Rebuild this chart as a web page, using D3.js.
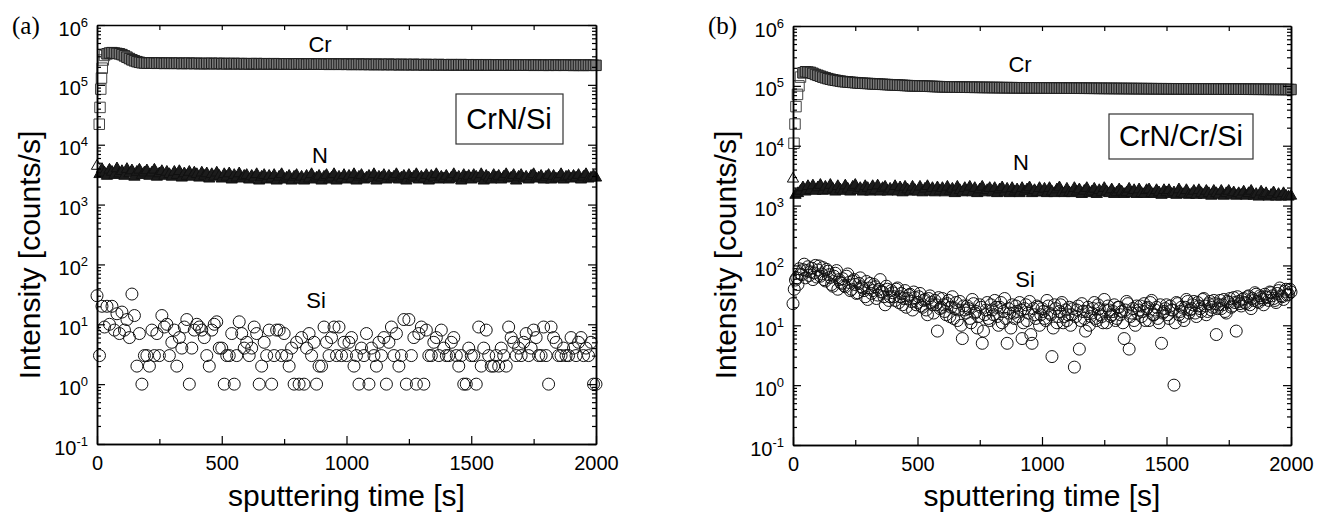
<!DOCTYPE html>
<html>
<head>
<meta charset="utf-8">
<script src="https://cdn.jsdelivr.net/npm/d3@7"></script>
<style>
  body { margin: 0; background: #fff; }
  svg text { font-family: "Liberation Sans", Arial, sans-serif; fill: #000; }
</style>
</head>
<body>
<svg id="chart" width="1318" height="516"></svg>
<script>
// sampling times of the depth profiles [s]
const timeGrid = [
  0, 10, 20, 30, 40, 50, 60, 70, 80, 90, 100, 110, 120, 130, 140, 150, 160, 170, 180, 190,
  200, 210, 220, 230, 240, 250, 260, 270, 280, 290, 300, 310, 320, 330, 340, 350, 360, 370, 380, 390,
  400, 410, 420, 430, 440, 450, 460, 470, 480, 490, 500, 510, 520, 530, 540, 550, 560, 570, 580, 590,
  600, 610, 620, 630, 640, 650, 660, 670, 680, 690, 700, 710, 720, 730, 740, 750, 760, 770, 780, 790,
  800, 810, 820, 830, 840, 850, 860, 870, 880, 890, 900, 910, 920, 930, 940, 950, 960, 970, 980, 990,
  1000, 1010, 1020, 1030, 1040, 1050, 1060, 1070, 1080, 1090, 1100, 1110, 1120, 1130, 1140, 1150, 1160, 1170, 1180, 1190,
  1200, 1210, 1220, 1230, 1240, 1250, 1260, 1270, 1280, 1290, 1300, 1310, 1320, 1330, 1340, 1350, 1360, 1370, 1380, 1390,
  1400, 1410, 1420, 1430, 1440, 1450, 1460, 1470, 1480, 1490, 1500, 1510, 1520, 1530, 1540, 1550, 1560, 1570, 1580, 1590,
  1600, 1610, 1620, 1630, 1640, 1650, 1660, 1670, 1680, 1690, 1700, 1710, 1720, 1730, 1740, 1750, 1760, 1770, 1780, 1790,
  1800, 1810, 1820, 1830, 1840, 1850, 1860, 1870, 1880, 1890, 1900, 1910, 1920, 1930, 1940, 1950, 1960, 1970, 1980, 1990,
  2000
];
// in-between sampling times (second Si set of panel b)
const timeGridHalf = [
  5, 15, 25, 35, 45, 55, 65, 75, 85, 95, 105, 115, 125, 135, 145, 155, 165, 175, 185, 195,
  205, 215, 225, 235, 245, 255, 265, 275, 285, 295, 305, 315, 325, 335, 345, 355, 365, 375, 385, 395,
  405, 415, 425, 435, 445, 455, 465, 475, 485, 495, 505, 515, 525, 535, 545, 555, 565, 575, 585, 595,
  605, 615, 625, 635, 645, 655, 665, 675, 685, 695, 705, 715, 725, 735, 745, 755, 765, 775, 785, 795,
  805, 815, 825, 835, 845, 855, 865, 875, 885, 895, 905, 915, 925, 935, 945, 955, 965, 975, 985, 995,
  1005, 1015, 1025, 1035, 1045, 1055, 1065, 1075, 1085, 1095, 1105, 1115, 1125, 1135, 1145, 1155, 1165, 1175, 1185, 1195,
  1205, 1215, 1225, 1235, 1245, 1255, 1265, 1275, 1285, 1295, 1305, 1315, 1325, 1335, 1345, 1355, 1365, 1375, 1385, 1395,
  1405, 1415, 1425, 1435, 1445, 1455, 1465, 1475, 1485, 1495, 1505, 1515, 1525, 1535, 1545, 1555, 1565, 1575, 1585, 1595,
  1605, 1615, 1625, 1635, 1645, 1655, 1665, 1675, 1685, 1695, 1705, 1715, 1725, 1735, 1745, 1755, 1765, 1775, 1785, 1795,
  1805, 1815, 1825, 1835, 1845, 1855, 1865, 1875, 1885, 1895, 1905, 1915, 1925, 1935, 1945, 1955, 1965, 1975, 1985, 1995
];

const KILO = 1000;

// ---- (a) CrN/Si ----
// Cr onset, kcounts/s
const crRiseTimeA = [9, 12, 15, 18, 21, 25, 30];
const crRiseA = [22, 42, 85, 130, 190, 260, 310];
// Cr on timeGrid, kcounts/s
const crA = [
  null, null, null, null, 330, 340, 345, 340, 335, 330,
  320, 305, 290, 275, 262, 252, 244, 238, 234, 232,
  231, 230, 232, 230, 229, 231, 230, 228, 230, 229,
  230, 228, 229, 230, 227, 229, 228, 230, 228, 227,
  229, 227, 228, 226, 228, 227, 229, 226, 227, 228,
  226, 228, 225, 227, 226, 228, 225, 226, 227, 225,
  226, 224, 226, 225, 227, 224, 225, 226, 224, 225,
  224, 226, 223, 225, 224, 222, 225, 223, 224, 222,
  223, 225, 222, 224, 221, 223, 222, 224, 221, 222,
  223, 221, 222, 220, 223, 221, 222, 220, 221, 222,
  220, 222, 219, 221, 220, 222, 219, 220, 221, 219,
  220, 218, 221, 219, 220, 218, 219, 221, 218, 219,
  219, 217, 220, 218, 219, 217, 218, 220, 217, 218,
  218, 216, 219, 217, 218, 216, 217, 219, 216, 217,
  217, 216, 218, 215, 217, 216, 218, 215, 216, 217,
  216, 215, 217, 214, 216, 215, 217, 214, 215, 216,
  215, 214, 216, 214, 215, 213, 216, 214, 215, 213,
  214, 215, 213, 215, 214, 212, 215, 213, 214, 212,
  214, 212, 213, 215, 212, 214, 213, 212, 214, 213,
  213, 211, 214, 212, 213, 211, 214, 212, 213, 212,
  212
];
// N on timeGrid, kcounts/s
const nA = [
  4.4, 3.2, 3.9, 3.4, 3.0, 3.8, 3.5, 3.1, 4.0, 3.3,
  3.6, 3.0, 3.9, 3.3, 3.7, 2.9, 3.5, 3.8, 3.1, 3.4,
  3.7, 3.0, 3.4, 3.8, 2.9, 3.3, 3.6, 3.0, 3.5, 3.2,
  2.9, 3.5, 3.1, 3.6, 2.8, 3.3, 3.0, 3.5, 2.9, 3.4,
  3.2, 2.8, 3.4, 3.0, 3.3, 2.7, 3.2, 2.9, 3.4, 3.0,
  2.7, 3.2, 2.9, 3.3, 2.6, 3.1, 2.8, 3.3, 2.7, 3.0,
  3.1, 2.6, 3.0, 2.8, 3.2, 2.5, 2.9, 3.1, 2.6, 3.0,
  2.7, 3.1, 2.5, 2.9, 3.2, 2.6, 2.8, 3.0, 2.5, 2.9,
  3.1, 2.6, 2.9, 2.5, 3.0, 2.7, 3.2, 2.6, 2.8, 3.0,
  2.5, 2.9, 3.1, 2.6, 2.8, 3.2, 2.5, 2.9, 2.7, 3.1,
  2.6, 3.0, 2.7, 3.2, 2.5, 2.9, 3.1, 2.6, 2.8, 3.0,
  2.7, 3.2, 2.5, 2.9, 2.8, 3.1, 2.6, 3.0, 2.7, 2.9,
  3.2, 2.6, 2.8, 3.0, 2.5, 3.1, 2.7, 2.9, 3.2, 2.6,
  2.9, 2.7, 3.1, 2.5, 3.0, 2.8, 3.2, 2.6, 2.9, 2.7,
  3.0, 2.6, 2.8, 3.2, 2.7, 2.9, 2.5, 3.1, 2.8, 3.0,
  2.6, 3.1, 2.9, 2.7, 3.2, 2.5, 3.0, 2.8, 2.6, 3.1,
  2.8, 3.0, 2.6, 2.9, 3.2, 2.7, 2.8, 3.1, 2.5, 2.9,
  3.1, 2.7, 2.9, 2.6, 3.0, 3.2, 2.7, 2.8, 3.0, 2.6,
  2.9, 3.1, 2.6, 3.0, 2.7, 2.8, 3.2, 2.6, 2.9, 3.0,
  2.7, 3.0, 2.8, 3.1, 2.6, 2.9, 3.2, 2.7, 2.8, 3.0,
  2.8
];
// Si on timeGrid, counts/s
const siA = [
  30, 3, 20, 9, 20, 10, 20, 8, 15, 7,
  16, 8, 12, 6, 32, 14, 2, 7, 1, 3,
  3, 2, 8, 3, 7, 3, 14, 9, 10, 3,
  5, 8, 2, 6, 4, 9, 12, 1, 4, 8,
  10, 9, 8, 6, 3, 2, 8, 10, 11, 4,
  4, 1, 3, 3, 7, 1, 3, 11, 7, 4,
  5, 3, 4, 9, 7, 1, 2, 5, 3, 8,
  1, 3, 8, 8, 3, 7, 3, 2, 4, 1,
  5, 1, 6, 1, 4, 7, 3, 5, 1, 2,
  2, 9, 5, 3, 6, 9, 3, 9, 3, 5,
  3, 5, 6, 2, 3, 1, 4, 3, 7, 1,
  4, 3, 2, 5, 3, 6, 1, 5, 9, 3,
  7, 2, 3, 12, 1, 12, 3, 6, 1, 7,
  9, 1, 8, 3, 3, 5, 6, 3, 8, 4,
  3, 3, 5, 6, 3, 2, 3, 1, 1, 4,
  3, 3, 1, 9, 2, 4, 8, 3, 2, 2,
  3, 2, 4, 3, 2, 9, 6, 5, 3, 4,
  3, 5, 7, 3, 4, 8, 6, 3, 3, 9,
  3, 1, 9, 6, 5, 3, 3, 4, 3, 3,
  6, 4, 3, 5, 6, 3, 4, 3, 5, 1,
  1
];

// ---- (b) CrN/Cr/Si ----
const crRiseTimeB = [4, 8, 12, 18, 24, 30];
const crRiseB = [11, 23, 45, 72, 100, 140];
const crB = [
  null, null, null, null, 165, 172, 170, 168, 162, 155,
  150, 145, 140, 136, 132, 129, 126, 124, 122, 120,
  118, 117, 116, 115, 114, 113, 112, 111, 110.5, 110,
  109.5, 109, 108, 107.5, 107, 106.5, 106, 105.5, 105, 104.5,
  104, 103.5, 103, 102.5, 102, 101.5, 101, 100.5, 100.2, 100.1,
  100, 99.6, 99.2, 98.8, 98.5, 98.2, 97.8, 97.5, 97.2, 96.9,
  96.6, 96.4, 96.2, 96.0, 95.8, 95.6, 95.4, 95.2, 95.0, 94.9,
  94.8, 94.5, 94.9, 94.3, 94.6, 94.1, 94.4, 93.9, 94.2, 93.8,
  94.0, 93.6, 93.9, 93.4, 93.7, 93.2, 93.5, 93.1, 93.4, 92.9,
  93.1, 92.8, 93.0, 92.6, 92.9, 92.4, 92.7, 92.3, 92.6, 92.2,
  92.4, 92.0, 92.3, 91.9, 92.1, 91.7, 92.0, 91.6, 91.9, 91.5,
  91.7, 91.3, 91.6, 91.2, 91.5, 91.1, 91.4, 91.0, 91.3, 90.9,
  91.1, 90.8, 91.0, 90.6, 90.9, 90.5, 90.8, 90.4, 90.7, 90.3,
  90.6, 90.2, 90.5, 90.1, 90.4, 90.0, 90.3, 89.9, 90.2, 89.8,
  90.1, 89.7, 90.0, 89.6, 89.9, 89.5, 89.8, 89.4, 89.7, 89.3,
  89.6, 89.2, 89.5, 89.1, 89.4, 89.0, 89.3, 88.9, 89.2, 88.8,
  89.1, 88.7, 89.0, 88.6, 88.9, 88.5, 88.8, 88.4, 88.7, 88.3,
  88.6, 88.2, 88.5, 88.1, 88.4, 88.0, 88.3, 87.9, 88.2, 87.8,
  88.1, 87.7, 88.0, 87.6, 87.9, 87.5, 87.8, 87.4, 87.7, 87.3,
  87.6, 87.2, 87.5, 87.1, 87.4, 87.0, 87.3, 86.9, 87.2, 86.8,
  87.0
];
const nB = [
  2.8, 1.5, 1.6, 1.75, 2.0, 1.7, 2.1, 1.8, 2.15, 1.75,
  2.0, 2.2, 1.75, 2.05, 1.8, 2.2, 1.9, 1.7, 2.1, 1.85,
  1.75, 2.15, 1.9, 1.7, 2.05, 2.2, 1.8, 1.95, 1.7, 2.1,
  1.95, 1.7, 2.1, 1.8, 2.15, 1.7, 1.95, 2.05, 1.7, 1.9,
  1.75, 2.1, 1.7, 2.0, 1.65, 2.05, 1.85, 1.7, 2.05, 1.8,
  1.7, 2.05, 1.65, 1.9, 2.1, 1.7, 1.95, 1.65, 2.0, 1.75,
  1.95, 1.65, 2.05, 1.75, 1.9, 1.6, 2.05, 1.8, 1.65, 1.95,
  1.7, 2.05, 1.65, 1.95, 1.6, 1.85, 2.05, 1.65, 1.8, 1.95,
  1.65, 1.95, 1.6, 1.85, 2.0, 1.65, 1.9, 1.6, 1.95, 1.7,
  1.85, 1.6, 1.95, 1.7, 1.85, 2.0, 1.6, 1.8, 1.65, 1.95,
  1.65, 1.9, 1.6, 1.95, 1.7, 1.6, 1.85, 2.0, 1.65, 1.6,
  1.9, 1.65, 1.6, 1.95, 1.7, 1.85, 1.55, 1.75, 1.95, 1.6,
  1.7, 1.9, 1.55, 1.8, 1.65, 1.95, 1.7, 1.6, 1.85, 1.55,
  1.65, 1.85, 1.7, 1.55, 1.65, 1.9, 1.6, 1.8, 1.55, 1.85,
  1.6, 1.55, 1.8, 1.85, 1.6, 1.55, 1.8, 1.65, 1.5, 1.8,
  1.65, 1.8, 1.55, 1.65, 1.5, 1.85, 1.6, 1.55, 1.8, 1.5,
  1.55, 1.75, 1.5, 1.8, 1.6, 1.5, 1.75, 1.6, 1.45, 1.75,
  1.6, 1.5, 1.75, 1.45, 1.6, 1.75, 1.5, 1.65, 1.45, 1.6,
  1.5, 1.7, 1.45, 1.6, 1.75, 1.45, 1.55, 1.4, 1.7, 1.5,
  1.6, 1.4, 1.5, 1.65, 1.4, 1.55, 1.4, 1.6, 1.45, 1.4,
  1.45
];
const siB = [
  23, 57, 48, 72, 85, 62, 95, 78, 58, 100,
  84, 66, 92, 55, 80, 63, 45, 74, 40, 52,
  60, 44, 72, 38, 55, 48, 35, 62, 42, 30,
  27, 50, 38, 44, 32, 58, 36, 22, 40, 30,
  35, 26, 42, 30, 22, 38, 28, 33, 18, 29,
  24, 34, 20, 27, 15, 31, 22, 26, 8, 19,
  28, 17, 23, 14, 30, 19, 12, 25, 6, 18,
  21, 13, 27, 16, 9, 22, 5, 15, 24, 12,
  18, 26, 14, 20, 11, 28, 5, 16, 22, 13,
  17, 24, 6, 19, 12, 25, 5, 15, 21, 10,
  19, 13, 26, 16, 3, 22, 11, 17, 24, 14,
  12, 20, 15, 2, 18, 4, 23, 13, 17, 10,
  16, 24, 12, 19, 14, 27, 11, 18, 15, 22,
  13, 20, 17, 6, 25, 4, 16, 12, 21, 18,
  14, 23, 19, 12, 26, 15, 20, 11, 5, 17,
  22, 13, 18, 1, 24, 15, 20, 12, 27, 16,
  19, 25, 14, 21, 17, 28, 15, 23, 18, 26,
  7, 22, 19, 27, 16, 24, 20, 29, 8, 25,
  21, 28, 23, 31, 19, 26, 33, 24, 29, 22,
  30, 26, 35, 28, 24, 38, 31, 27, 40, 33,
  36
];
// Si of panel b on timeGridHalf
const siB2 = [
  40, 62, 88, 70, 105, 82, 68, 90, 75, 64,
  98, 72, 58, 86, 70, 48, 66, 82, 58, 50,
  46, 66, 52, 40, 58, 34, 50, 44, 38, 54,
  42, 34, 48, 28, 40, 36, 30, 45, 26, 38,
  30, 40, 24, 34, 28, 20, 32, 25, 36, 22,
  30, 21, 26, 18, 28, 24, 16, 22, 29, 20,
  22, 15, 26, 20, 13, 24, 18, 10, 21, 16,
  19, 11, 23, 17, 14, 20, 8, 18, 13, 22,
  15, 20, 10, 24, 17, 13, 19, 9, 16, 21,
  14, 18, 11, 22, 16, 7, 19, 13, 20, 15,
  17, 12, 21, 15, 9, 19, 14, 22, 11, 18,
  15, 10, 19, 14, 21, 12, 17, 8, 20, 14,
  19, 13, 22, 15, 11, 18, 21, 14, 17, 12,
  20, 15, 11, 18, 23, 14, 19, 10, 16, 21,
  17, 12, 20, 24, 15, 18, 13, 22, 16, 19,
  15, 21, 18, 11, 23, 17, 14, 20, 25, 18,
  22, 16, 24, 19, 27, 21, 17, 25, 20, 23,
  19, 26, 22, 17, 25, 28, 21, 24, 30, 23,
  27, 24, 30, 22, 28, 35, 25, 31, 27, 33,
  29, 36, 31, 26, 34, 42, 30, 37, 32, 40
];

const xTicks = [0, 500, 1000, 1500, 2000];
const xMinorTicks = [250, 750, 1250, 1750];
const yDecades = [0.1, 1, 10, 100, 1000, 10000, 100000, 1000000];

const panels = [
  {
    tag: "(a)", sample: "CrN/Si",
    left: 97, right: 596, top: 25, bottom: 444,
    crT: crRiseTimeA, crRise: crRiseA, cr: crA, n: nA,
    si: [[timeGrid, siA]],
    labels: [["Cr", 320, 52], ["N", 320, 163], ["Si", 316, 308]],
    box: [456, 94, 107, 50], boxText: [509, 129]
  },
  {
    tag: "(b)", sample: "CrN/Cr/Si",
    left: 793, right: 1291, top: 26, bottom: 445,
    crT: crRiseTimeB, crRise: crRiseB, cr: crB, n: nB,
    si: [[timeGrid, siB], [timeGridHalf, siB2]],
    labels: [["Cr", 1020, 72], ["N", 1021, 170], ["Si", 1025, 287]],
    box: [1109, 114, 144, 45], boxText: [1181, 146]
  }
];

const svg = d3.select("#chart");

function styleAxis(g) {
  g.select(".domain").attr("stroke", "#000").attr("stroke-width", 1.5);
  g.selectAll(".tick line").attr("stroke", "#000").attr("stroke-width", 1.2);
}

panels.forEach((p) => {
  const x = d3.scaleLinear().domain([0, 2000]).range([p.left, p.right]);
  const y = d3.scaleLog().domain([0.1, 1e6]).range([p.bottom, p.top]);
  const yMinor = y.ticks().filter((d) => !yDecades.some((v) => Math.abs(v - d) / v < 1e-6));

  const g = svg.append("g");

  // markers
  const sq = d3.symbol().type(d3.symbolSquare).size(110)();
  const tri = d3.symbol().type(d3.symbolTriangle).size(55)();

  // Cr onset: open squares
  g.append("g").selectAll("path").data(p.crT.map((t, i) => [t, p.crRise[i]])).join("path")
    .attr("d", sq)
    .attr("transform", (d) => `translate(${x(d[0])},${y(d[1] * KILO)})`)
    .attr("fill", "none").attr("stroke", "#444").attr("stroke-width", 1);
  // Cr plateau: overlapping squares -> grey striped band
  g.append("g").selectAll("path")
    .data(timeGrid.map((t, i) => [t, p.cr[i]]).filter((d) => d[1] != null)).join("path")
    .attr("d", sq)
    .attr("transform", (d) => `translate(${x(d[0])},${y(d[1] * KILO)})`)
    .attr("fill", "#7a7a7a").attr("stroke", "#1e1e1e").attr("stroke-width", 1);

  g.append("g").selectAll("path").data(timeGrid.map((t, i) => [t, p.n[i]])).join("path")
    .attr("d", tri)
    .attr("transform", (d) => `translate(${x(d[0])},${y(d[1] * KILO)})`)
    .attr("fill", (d, i) => (i === 0 ? "none" : "#1c1c1c"))
    .attr("stroke", "#111").attr("stroke-width", 1);

  p.si.forEach(([ts, vs]) => {
    g.append("g").selectAll("circle").data(ts.map((t, i) => [t, vs[i]])).join("circle")
      .attr("cx", (d) => x(d[0])).attr("cy", (d) => y(d[1]))
      .attr("r", 6)
      .attr("fill", "none").attr("stroke", "#111").attr("stroke-width", 1);
  });

  // axes
  const bottom = g.append("g").attr("transform", `translate(0,${p.bottom})`)
    .call(d3.axisBottom(x).tickValues(xTicks).tickFormat(d3.format("d"))
      .tickSize(-8).tickSizeOuter(0).tickPadding(12));
  bottom.selectAll(".tick text").attr("font-size", 20);
  styleAxis(bottom);
  const bottomMinor = g.append("g").attr("transform", `translate(0,${p.bottom})`)
    .call(d3.axisBottom(x).tickValues(xMinorTicks).tickSize(-5).tickSizeOuter(0).tickFormat(""));
  styleAxis(bottomMinor);

  const top = g.append("g").attr("transform", `translate(0,${p.top})`)
    .call(d3.axisTop(x).tickValues(xMinorTicks.concat([500, 1000, 1500])).tickSize(-5).tickSizeOuter(0).tickFormat(""));
  styleAxis(top);

  const left = g.append("g").attr("transform", `translate(${p.left},0)`)
    .call(d3.axisLeft(y).tickValues(yDecades).tickSize(-8).tickSizeOuter(0).tickPadding(9));
  left.selectAll(".tick text")
    .attr("font-size", 20)
    .attr("dy", 10)
    .each(function (d) {
      const t = d3.select(this).text(null);
      t.append("tspan").text("10");
      t.append("tspan").attr("dy", -9).attr("font-size", 13).text(Math.round(Math.log10(d)));
    });
  styleAxis(left);
  const leftMinor = g.append("g").attr("transform", `translate(${p.left},0)`)
    .call(d3.axisLeft(y).tickValues(yMinor).tickSize(-4).tickSizeOuter(0).tickFormat(""));
  styleAxis(leftMinor);

  const right = g.append("g").attr("transform", `translate(${p.right},0)`)
    .call(d3.axisRight(y).tickValues(yDecades).tickSize(-8).tickSizeOuter(0).tickFormat(""));
  styleAxis(right);
  const rightMinor = g.append("g").attr("transform", `translate(${p.right},0)`)
    .call(d3.axisRight(y).tickValues(yMinor).tickSize(-4).tickSizeOuter(0).tickFormat(""));
  styleAxis(rightMinor);

  // axis titles
  const cx = (p.left + p.right) / 2;
  g.append("text").attr("x", cx).attr("y", 506).attr("text-anchor", "middle")
    .attr("font-size", 30).text("sputtering time [s]");
  g.append("text")
    .attr("transform", `translate(${p.left - 57},255) rotate(-90)`)
    .attr("text-anchor", "middle").attr("font-size", 30).text("Intensity [counts/s]");

  // panel tag
  g.append("text").attr("x", p.left - 85).attr("y", 34)
    .style("font-family", "'Liberation Serif', 'Times New Roman', serif")
    .attr("font-size", 25).text(p.tag);

  // element labels
  p.labels.forEach(([s, lx, ly]) => {
    g.append("text").attr("x", lx).attr("y", ly).attr("text-anchor", "middle")
      .attr("font-size", 22).text(s);
  });

  // sample box
  g.append("rect").attr("x", p.box[0]).attr("y", p.box[1]).attr("width", p.box[2]).attr("height", p.box[3])
    .attr("fill", "#fff").attr("stroke", "#333").attr("stroke-width", 1.2);
  g.append("text").attr("x", p.boxText[0]).attr("y", p.boxText[1]).attr("text-anchor", "middle")
    .attr("font-size", 29).text(p.sample);
});
</script>
</body>
</html>
